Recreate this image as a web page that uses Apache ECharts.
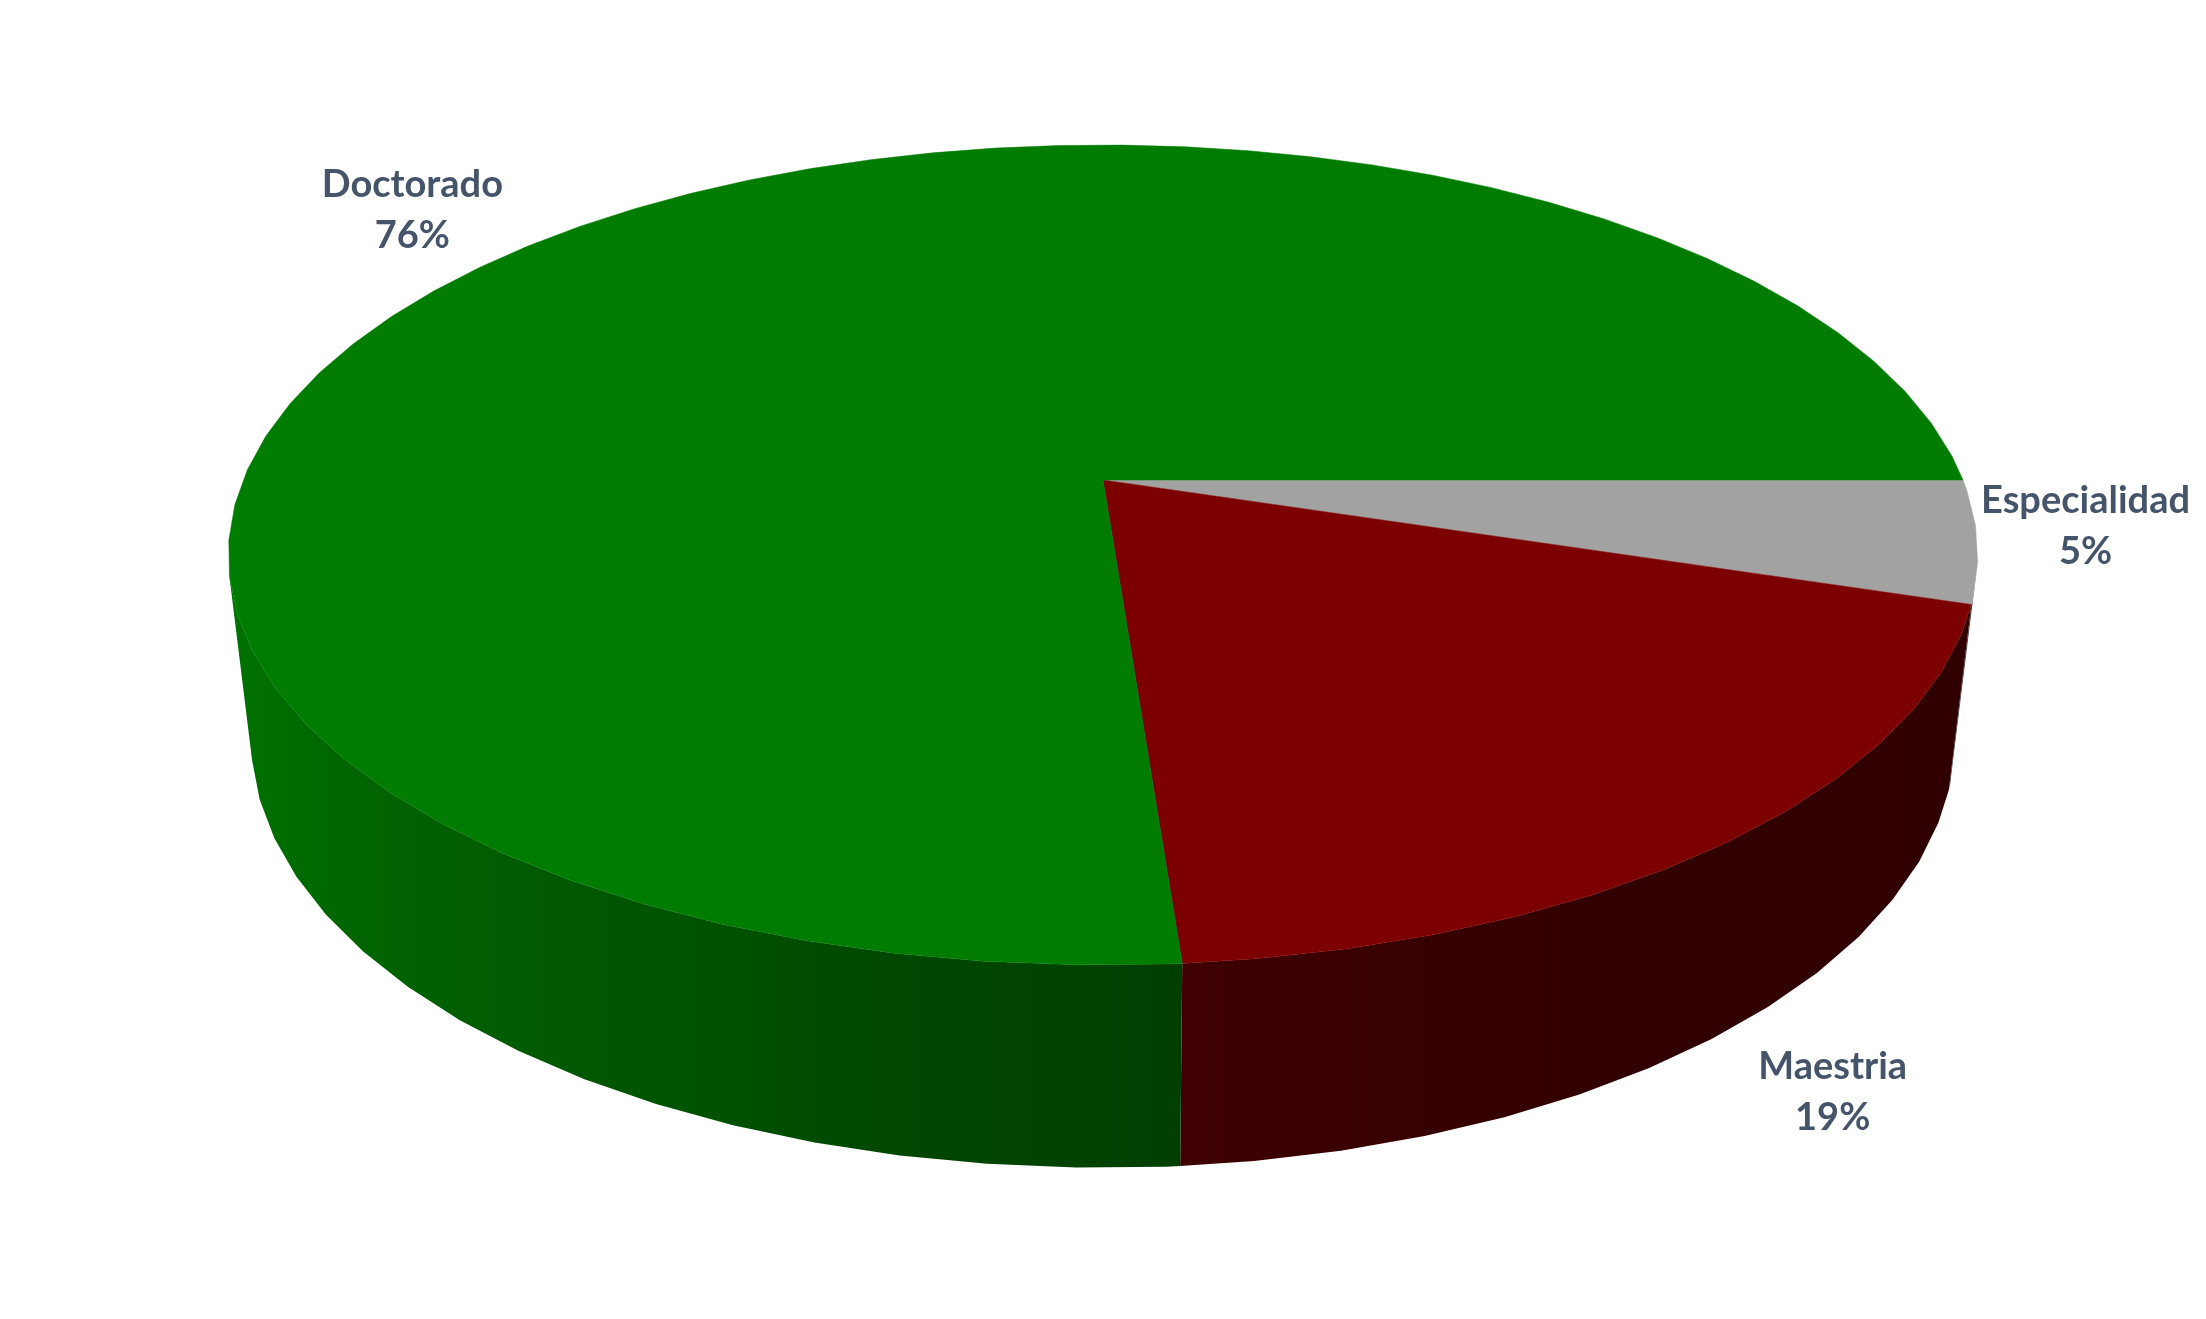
<!DOCTYPE html>
<html>
<head>
<meta charset="utf-8">
<script src="https://cdn.jsdelivr.net/npm/echarts@6/dist/echarts.min.js"></script>
<style>html,body{margin:0;padding:0;background:#fff}#c{width:2206px;height:1319px}</style>
</head>
<body>
<div id="c"></div>
<script>
// Data, clockwise from 3 o'clock
const categories = ['Especialidad', 'Maestria', 'Doctorado'];
const values = [4.8, 19, 76.2];
const labelsPct = ['5%', '19%', '76%'];

// Styles
const topColors = [[0xa2,0xa2,0xa2],[0x7c,0,0],[0,0x7c,0]];
const labelColor = '#44546A';

// Perspective layout of the disc
const CX = 1103, CY = 480, R = 860, B = 396.3, K = -0.183;
const SIDE_X_SCALE = 0.974, SIDE_DROP = 179, SIDE_K = -0.117;
const FACET = 5, FACET_OFFSET = 1.5, SIDE_FROM = 11.5, SIDE_TO = 166.5;
const labelRadial = [1.12, 1.14, 1.268];
const labelShiftY = [-23, 190, 25];
// side shading: [angle, brightness]
const shadeStops = [[0,.38],[60,.40],[85,.50],[90,.53],[101,.57],[112,.66],[134,.78],[154,.90],[180,.97],[360,.97]];

function project(deg, f) {
  const a = deg * Math.PI / 180, u = Math.cos(a) * f, v = Math.sin(a) * f, d = 1 + K * v;
  return [CX + R * u / d, CY + B * v / d];
}
function lower(p, deg) {
  const v = Math.sin(deg * Math.PI / 180);
  return [CX + SIDE_X_SCALE * (p[0] - CX), p[1] + SIDE_DROP / (1 + SIDE_K * v)];
}
function shade(deg, base) {
  let s = shadeStops[shadeStops.length - 1][1];
  for (let i = 1; i < shadeStops.length; i++) {
    if (deg <= shadeStops[i][0]) {
      const a = shadeStops[i - 1], b = shadeStops[i];
      s = a[1] + (b[1] - a[1]) * (deg - a[0]) / (b[0] - a[0]);
      break;
    }
  }
  return 'rgb(' + base.map(c => Math.round(c * s)).join(',') + ')';
}
function rgb(c) { return 'rgb(' + c.join(',') + ')'; }

const total = values.reduce((a, b) => a + b, 0);
const starts = [];
values.reduce((acc, v, i) => { starts[i] = acc; return acc + v; }, 0);

function angles(a0, a1) {
  const out = [a0];
  let n = Math.ceil((a0 - FACET_OFFSET) / FACET + 1e-6);
  for (let t = FACET_OFFSET + n * FACET; t < a1 - 1e-6; t += FACET) out.push(t);
  out.push(a1);
  return out;
}

// Horizontal gradient over a sector's side wall, driven by the wall's angle
function sideFill(list, rim, points, base) {
  const xs = points.map(p => p[0]);
  const minX = Math.min.apply(null, xs), maxX = Math.max.apply(null, xs);
  const span = Math.max(maxX - minX, 1);
  const stops = list.map((t, k) => ({
    offset: Math.min(1, Math.max(0, (rim[k][0] - minX) / span)),
    color: shade(t, base)
  })).sort((a, b) => a.offset - b.offset);
  return { type: 'linear', x: minX, y: 0, x2: maxX, y2: 0, global: true, colorStops: stops };
}

function renderItem(params, api) {
  const i = params.dataIndex;
  const a0 = starts[i] / total * 360;
  const a1 = (starts[i] + api.value(0)) / total * 360;
  const list = angles(a0, a1);
  const rim = list.map(t => project(t, 1));
  const children = [];
  // Side wall, only the part facing the viewer
  const sideA0 = Math.max(a0, SIDE_FROM), sideA1 = Math.min(a1, SIDE_TO);
  if (sideA1 > sideA0) {
    const sideList = angles(sideA0, sideA1);
    const sideRim = sideList.map(t => project(t, 1));
    const sideBase = sideList.map((t, k) => lower(sideRim[k], t));
    const sidePts = sideRim.concat(sideBase.slice().reverse());
    children.push({
      type: 'polygon',
      shape: { points: sidePts },
      style: { fill: sideFill(sideList, sideRim, sidePts, topColors[i]) },
      z2: 20
    });
  }
  const c = rgb(topColors[i]);
  children.push({
    type: 'polygon',
    shape: { points: [[CX, CY]].concat(rim) },
    style: { fill: c, stroke: c, lineWidth: 0.5 },
    z2: 40 + i
  });
  const midA = (a0 + a1) / 2;
  const p = project(midA, labelRadial[i]);
  children.push({
    type: 'text',
    x: p[0], y: p[1] + labelShiftY[i],
    style: {
      text: categories[i] + '\n' + labelsPct[i],
      fill: labelColor,
      font: 'bold 38px Lato, "Open Sans", sans-serif',
      lineHeight: 51,
      align: 'center',
      verticalAlign: 'middle',
      textAlign: 'center',
      textVerticalAlign: 'middle'
    },
    z2: 60
  });
  return { type: 'group', children };
}

const chart = echarts.init(document.getElementById('c'), null, { renderer: 'canvas' });
chart.setOption({
  animation: false,
  backgroundColor: '#ffffff',
  series: [{
    type: 'custom',
    coordinateSystem: 'none',
    renderItem,
    clip: false,
    data: values.map((v, i) => ({ name: categories[i], value: [v] }))
  }]
});
</script>
</body>
</html>
